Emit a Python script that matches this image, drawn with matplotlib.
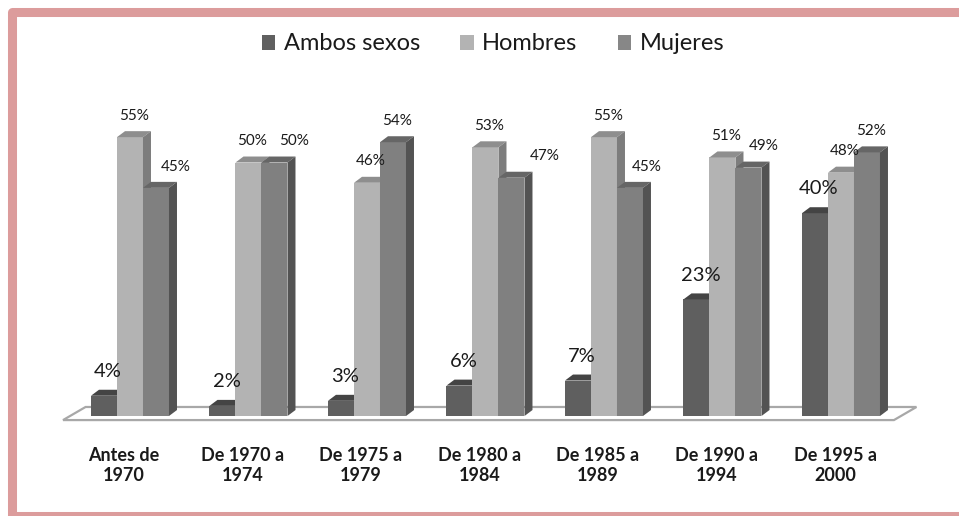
import matplotlib
matplotlib.use('Agg')
import matplotlib.pyplot as plt
from matplotlib.patches import Patch, Rectangle, Polygon
import numpy as np

# ---- data ----
categories = ["Antes de\n1970", "De 1970 a\n1974", "De 1975 a\n1979", "De 1980 a\n1984",
              "De 1985 a\n1989", "De 1990 a\n1994", "De 1995 a\n2000"]
series_names = ["Ambos sexos", "Hombres", "Mujeres"]
ambos = [4, 2, 3, 6, 7, 23, 40]
hombres = [55, 50, 46, 53, 55, 51, 48]
mujeres = [45, 50, 54, 47, 45, 49, 52]
value_labels = ["{}%".format(v) for v in ambos], ["{}%".format(v) for v in hombres], ["{}%".format(v) for v in mujeres]

# ---- style ----
front = ['#5f5f5f', '#b3b3b3', '#808080']
topc = ['#444444', '#8e8e8e', '#666666']
sidec = ['#4a4a4a', '#7d7d7d', '#535353']
legend_col = ['#606060', '#b3b3b3', '#878787']
label_fs = [14.5, 11, 11]
label_gap = [7, 6, 6]          # points above top face
# horizontal nudge (points) of Mujeres labels to avoid the taller neighbour
mujer_nudge = [11.5, 11, 0, 21, 9.5, 8, 0]

W, H = 959, 516
fig = plt.figure(figsize=(W / 100, H / 100), dpi=100)
fig.patch.set_facecolor('white')
ax = fig.add_axes([0, 0, 1, 1])
ax.set_xlim(-1.097, 6.996)
ax.set_ylim(-19.72, 82.05)
ax.axis('off')

n = len(categories)
w = 0.2194            # bar width (category units)
dx, dy = 0.0675, 1.18  # depth offsets

# floor
fl, fr, fdx = -0.565, 6.447, 0.19
fy0, fy1 = -0.8, 1.78
floor = Polygon([(fl, fy0), (fr, fy0), (fr + fdx, fy1), (fl + fdx, fy1)], closed=True,
                facecolor='white', edgecolor='#a8a8a8', linewidth=1.6, zorder=1)
ax.add_patch(floor)

series = [ambos, hombres, mujeres]
idx = np.arange(n)
for s, vals in enumerate(series):
    xs = idx + (s - 1) * w
    ax.bar(xs, vals, width=w, color=front[s], linewidth=0, zorder=2 + 3 * s)
    for x, v in zip(xs, vals):
        x0, x1 = x - w / 2, x + w / 2
        ax.add_patch(Polygon([(x0, v), (x1, v), (x1 + dx, v + dy), (x0 + dx, v + dy)],
                             closed=True, facecolor=topc[s], linewidth=0, zorder=3 + 3 * s))
        ax.add_patch(Polygon([(x1, 0), (x1 + dx, dy), (x1 + dx, v + dy), (x1, v)],
                             closed=True, facecolor=sidec[s], linewidth=0, zorder=4 + 3 * s))
    for i, (x, v) in enumerate(zip(xs, vals)):
        nudge = mujer_nudge[i] if s == 2 else 0
        ax.annotate(value_labels[s][i], (x + dx / 2, v + dy), xytext=(nudge, label_gap[s]),
                    textcoords='offset points', ha='center', va='bottom',
                    fontsize=label_fs[s], color='#1a1a1a', family='Lato', zorder=20)

for i, c in enumerate(categories):
    ax.text(i - 0.05, -9.7, c, ha='center', va='center', fontsize=13, fontweight='bold',
            family='Lato', color='#1a1a1a', linespacing=1.22)

handles = [Patch(facecolor=legend_col[k], edgecolor='none', label=series_names[k]) for k in range(3)]
leg = ax.legend(handles=handles, loc='center', bbox_to_anchor=(493 / W, 1 - 44 / H),
                bbox_transform=fig.transFigure, ncol=3, frameon=False,
                handlelength=0.58, handleheight=0.58, handletextpad=0.36, columnspacing=1.7,
                prop={'family': 'Lato', 'size': 17})
for t in leg.get_texts():
    t.set_color('#1a1a1a')

# pink frame
frame = Rectangle((11.5 / W, 0.0), (975 - 11.5) / W, 1 - 11.5 / H, transform=fig.transFigure,
                  fill=False, edgecolor='#dc9c9c', linewidth=6.5, joinstyle='round', zorder=30)
fig.patches.append(frame)

fig.savefig('out.png', dpi=100, facecolor='white')
